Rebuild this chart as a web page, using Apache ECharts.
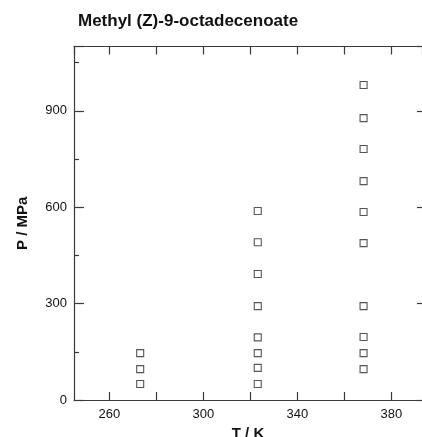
<!DOCTYPE html>
<html>
<head>
<meta charset="utf-8">
<script src="https://cdn.jsdelivr.net/npm/echarts@6/dist/echarts.min.js"></script>
<style>html,body{margin:0;padding:0;background:#fff}#c{width:422px;height:437px}</style>
</head>
<body>
<div id="c"></div>
<script>
// Data
const titleText = 'Methyl (Z)-9-octadecenoate';
const xName = 'T / K';
const yName = 'P / MPa';
const temps = [273.15, 323.15, 368.15];
const p273 = [50, 96, 146];
const p323 = [50, 100, 146, 195, 292, 392, 491, 588];
const p368 = [96, 146, 196, 292, 488, 585, 681, 781, 877, 980];
const xTickLabels = [260, 300, 340, 380];
const yTickLabels = [0, 300, 600, 900];

const pressures = [p273, p323, p368];
const lineCol = '#3a3a3a';
const font = 'Liberation Sans';
const tickStyle = {color: lineCol, width: 1.2};

function xAx(pos, showLabel) {
  return {
    type: 'value', min: 245, max: 393, splitNumber: 7, position: pos,
    axisLine: {show: true, onZero: false, lineStyle: tickStyle},
    axisTick: {show: true, inside: true, length: 8, lineStyle: tickStyle},
    axisLabel: {
      show: showLabel, margin: 8, fontFamily: font, fontSize: 13, color: '#111',
      showMinLabel: false, showMaxLabel: false,
      formatter: v => (xTickLabels.indexOf(v) >= 0 ? String(v) : '')
    },
    splitLine: {show: false}
  };
}

const chart = echarts.init(document.getElementById('c'));
chart.setOption({
  animation: false,
  backgroundColor: '#fff',
  title: {
    text: titleText, left: 73, top: 8,
    textStyle: {fontFamily: font, fontSize: 17, fontWeight: 'bold', color: '#111'}
  },
  grid: {left: 74, right: 0, top: 46.5, bottom: 37, outerBoundsMode: 'none'},
  xAxis: [
    Object.assign(xAx('bottom', true), {
      name: xName, nameLocation: 'middle', nameGap: 17,
      nameTextStyle: {fontFamily: font, fontSize: 15, fontWeight: 'bold', color: '#111'}
    }),
    xAx('top', false)
  ],
  yAxis: [
    {
      type: 'value', min: 0, max: 1100, interval: 300, position: 'left',
      axisLine: {show: true, onZero: false, lineStyle: tickStyle},
      axisTick: {show: true, inside: true, length: 10, lineStyle: tickStyle},
      minorTick: {show: true, splitNumber: 2, length: 5, lineStyle: tickStyle},
      axisLabel: {
        margin: 7, fontFamily: font, fontSize: 13, color: '#111',
        showMaxLabel: false,
        formatter: v => (yTickLabels.indexOf(v) >= 0 ? String(v) : '')
      },
      splitLine: {show: false},
      name: yName, nameLocation: 'middle', nameGap: 44,
      nameTextStyle: {fontFamily: font, fontSize: 15, fontWeight: 'bold', color: '#111'}
    },
    {
      type: 'value', min: 0, max: 1100, interval: 300, position: 'right',
      axisLine: {show: false, onZero: false},
      axisTick: {show: true, inside: true, length: 5, lineStyle: tickStyle},
      axisLabel: {show: false},
      splitLine: {show: false}
    }
  ],
  series: temps.map((t, i) => ({
    type: 'scatter',
    xAxisIndex: 0, yAxisIndex: 0,
    symbol: 'rect', symbolSize: 7,
    itemStyle: {color: '#fff', borderColor: '#2a2a2a', borderWidth: 1.1},
    data: pressures[i].map(p => [t, p])
  }))
});
</script>
</body>
</html>
